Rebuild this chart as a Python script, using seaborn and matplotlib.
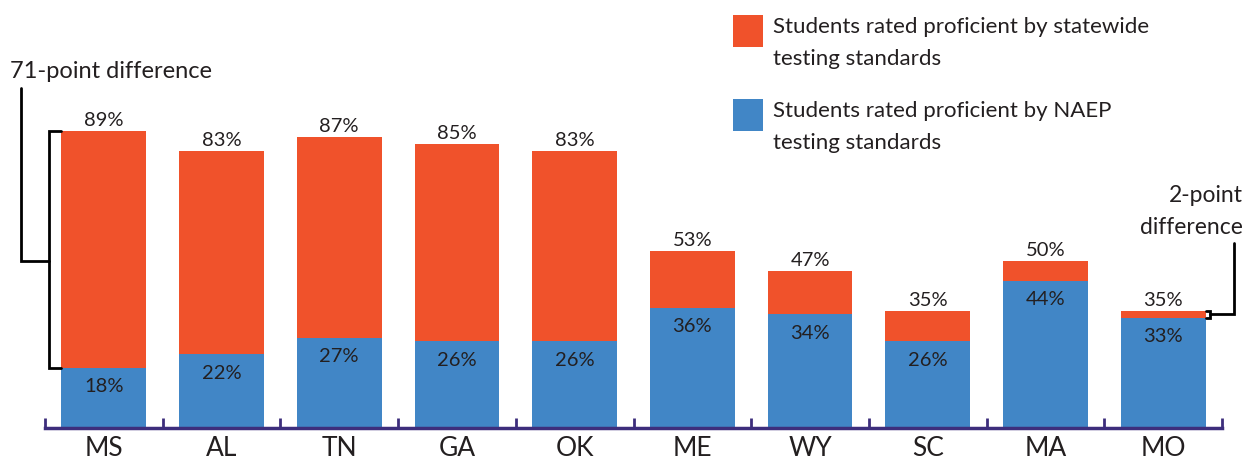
import numpy as np
import pandas as pd
import matplotlib
matplotlib.use("Agg")
import matplotlib.pyplot as plt
from matplotlib.patches import Rectangle
import seaborn as sns

# data
states = ["MS", "AL", "TN", "GA", "OK", "ME", "WY", "SC", "MA", "MO"]
state_pct = [89, 83, 87, 85, 83, 53, 47, 35, 50, 35]
naep_pct = [18, 22, 27, 26, 26, 36, 34, 26, 44, 33]

legend_labels = ["Students rated proficient by statewide\ntesting standards",
                 "Students rated proficient by NAEP\ntesting standards"]

orange = "#f0522b"
blue = "#4186c6"
axis_col = "#3d2e7c"
txt = "#231f20"

sns.set_theme(style="white")
plt.rcParams["font.family"] = ["Lato", "DejaVu Sans"]
plt.rcParams["text.color"] = txt

df = pd.DataFrame({"state": states, "statewide": state_pct, "naep": naep_pct})

W, H = 1258, 466
fig = plt.figure(figsize=(W / 100, H / 100), dpi=100)
ax = fig.add_axes([45 / W, 38 / H, 1177 / W, 428 / H])

sns.barplot(data=df, x="state", y="statewide", color=orange, saturation=1,
            width=0.72, linewidth=0, ax=ax)
sns.barplot(data=df, x="state", y="naep", color=blue, saturation=1,
            width=0.72, linewidth=0, ax=ax)

ax.set_xlim(-0.5, len(states) - 0.5)
ax.set_ylim(0, 128.1)
ax.set_xlabel("")
ax.set_ylabel("")
ax.set_yticks([])

# value labels
for i, (s, n) in enumerate(zip(state_pct, naep_pct)):
    ax.annotate(f"{s}%", (i, s), xytext=(0, 1.5), textcoords="offset points",
                ha="center", va="bottom", fontsize=14.5, color=txt)
    ax.annotate(f"{n}%", (i, n), xytext=(0, -7.5), textcoords="offset points",
                ha="center", va="top", fontsize=14.5, color=txt)

# axis styling
for side in ["left", "top", "right"]:
    ax.spines[side].set_visible(False)
ax.spines["bottom"].set_color(axis_col)
ax.spines["bottom"].set_linewidth(2.5)
ax.set_xticks(np.arange(-0.5, len(states), 1), minor=True)
ax.tick_params(axis="x", which="major", length=0, labelsize=19, pad=6, labelcolor=txt)
ax.tick_params(axis="x", which="minor", length=7, width=2, direction="in",
               color=axis_col, bottom=True)

# left bracket: 71-point difference
bw = 0.36
s0, n0 = state_pct[0], naep_pct[0]
ax.plot([-bw, -0.47, -0.47, -bw], [s0, s0, n0, n0], color="black", lw=2,
        clip_on=False, solid_joinstyle="miter")
mid = n0 + 0.45 * (s0 - n0)
ax.plot([-0.47, -0.70, -0.70], [mid, mid, 101.8], color="black", lw=2,
        clip_on=False, solid_joinstyle="miter")
ax.text(-0.80, 106.6, f"{s0 - n0}-point difference", ha="left", va="center",
        fontsize=17, color=txt, clip_on=False)

# right bracket: 2-point difference
s9, n9 = state_pct[-1], naep_pct[-1]
last = len(states) - 1
ax.plot([last + bw, last + 0.40, last + 0.40, last + bw], [s9, s9, n9, n9],
        color="black", lw=2, clip_on=False, solid_joinstyle="miter")
ymid = (s9 + n9) / 2
ax.plot([last + 0.40, last + 0.60, last + 0.60], [ymid, ymid, 55.4],
        color="black", lw=2, clip_on=False, solid_joinstyle="miter")
ax.text(last + 0.68, 64.9, f"{s9 - n9}-point\ndifference", ha="right",
        va="center", multialignment="right", fontsize=16.5, color=txt,
        linespacing=1.65, clip_on=False)

# legend
for (top, col, lab) in [(15, orange, legend_labels[0]), (99, blue, legend_labels[1])]:
    fig.add_artist(Rectangle((733 / W, 1 - (top + 32) / H), 30 / W, 32 / H,
                             transform=fig.transFigure, color=col, lw=0))
    fig.text(773 / W, 1 - (top + 2) / H, lab, ha="left", va="top",
             fontsize=16, color=txt, linespacing=1.78)

fig.savefig("out.png", dpi=100)
